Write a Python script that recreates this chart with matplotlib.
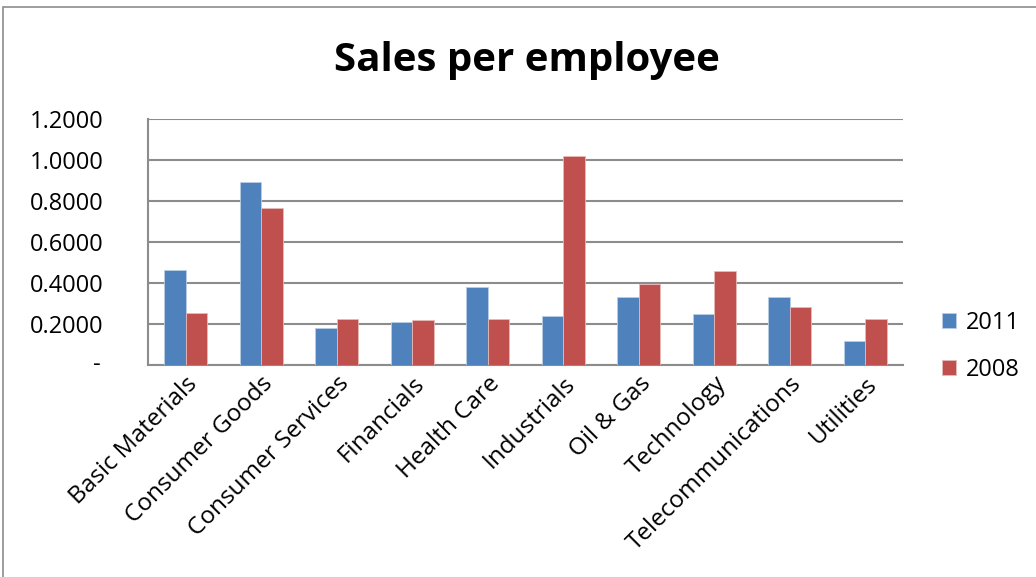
import matplotlib.pyplot as plt
import numpy as np
from matplotlib.patches import Rectangle
from matplotlib.ticker import FuncFormatter

plt.rcParams['font.family'] = ['Open Sans', 'DejaVu Sans']

sectors = ["Basic Materials", "Consumer Goods", "Consumer Services", "Financials",
           "Health Care", "Industrials", "Oil & Gas", "Technology",
           "Telecommunications", "Utilities"]
sales_2011 = [0.463, 0.893, 0.179, 0.211, 0.380, 0.239, 0.334, 0.248, 0.331, 0.119]
sales_2008 = [0.256, 0.766, 0.226, 0.218, 0.224, 1.021, 0.393, 0.459, 0.284, 0.224]
yticks = [0, 0.2, 0.4, 0.6, 0.8, 1.0, 1.2]

blue = "#4F81BD"
red = "#C0504D"
grid_col = "#8C8C8C"

W, H = 1036, 577
fig = plt.figure(figsize=(W / 100, H / 100), dpi=100)

# outer chart border (top and left edges show)
fig.patches.append(Rectangle((3 / W, -0.1), 1.1, (H - 7) / H + 0.1, transform=fig.transFigure,
                             fill=False, edgecolor="#8C8C8C", linewidth=1.2))

ax = fig.add_axes([148 / W, (H - 365) / H, 755 / W, (365 - 119) / H])

x = np.arange(len(sectors))
w = 0.285
ax.bar(x - w / 2, sales_2011, w, color=blue, edgecolor="#B9CDE5", linewidth=0.6, label="2011", zorder=3)
ax.bar(x + w / 2, sales_2008, w, color=red, edgecolor="#E6B9B8", linewidth=0.6, label="2008", zorder=3)

ax.set_xlim(-0.5, len(sectors) - 0.5)
ax.set_ylim(0, 1.2)
ax.set_yticks(yticks)
ax.yaxis.set_major_formatter(FuncFormatter(lambda v, p: "" if v == 0 else f"{v:.4f}"))
# zero is shown as an accounting-style dash, set a bit in from the other labels
ax.text(-0.068, 0, "-", transform=ax.get_yaxis_transform(), ha="center", va="center", fontsize=17)
ax.yaxis.grid(True, color=grid_col, linewidth=1.5, zorder=0)
ax.set_axisbelow(True)

for s in ["top", "right"]:
    ax.spines[s].set_visible(False)
for s in ["left", "bottom"]:
    ax.spines[s].set_color(grid_col)
    ax.spines[s].set_linewidth(1.5)

ax.tick_params(axis="y", length=0, pad=32, labelsize=17)
ax.tick_params(axis="x", length=0, pad=5, labelsize=17.5)
ax.set_xticks(x)
ax.set_xticklabels(sectors, rotation=45, ha="right", va="top", rotation_mode="anchor")
for lbl in ax.get_yticklabels():
    lbl.set_horizontalalignment("right")

fig.text(527 / W, 1 - 60 / H, "Sales per employee", ha="center", va="center",
         fontsize=29, fontweight="bold")

fig.legend(loc="upper left", bbox_to_anchor=(921 / W, 1 - 290 / H), frameon=False,
           fontsize=17, handlelength=0.6, handleheight=0.6, handletextpad=0.4,
           labelspacing=0.95)

fig.savefig("out.png", dpi=100)
